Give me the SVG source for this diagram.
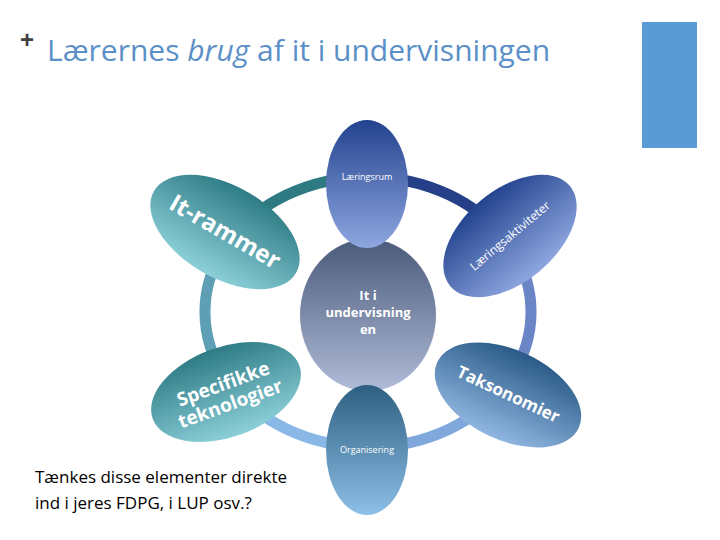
<svg xmlns="http://www.w3.org/2000/svg" width="720" height="540" viewBox="0 0 720 540">
<defs>
<linearGradient id="gTeal" x1="0" y1="0" x2="0" y2="1"><stop offset="0" stop-color="#2e7c85"/><stop offset="1" stop-color="#8ccfd9"/></linearGradient>
<linearGradient id="gBlue" x1="0" y1="0" x2="0" y2="1"><stop offset="0" stop-color="#24438f"/><stop offset="1" stop-color="#8ea7e0"/></linearGradient>
<linearGradient id="gSlate" x1="0" y1="0" x2="0" y2="1"><stop offset="0" stop-color="#4a5a7a"/><stop offset="1" stop-color="#b0bcd8"/></linearGradient>
<linearGradient id="gMid" x1="0" y1="0" x2="0" y2="1"><stop offset="0" stop-color="#2a5a88"/><stop offset="1" stop-color="#8fb6e0"/></linearGradient>
<linearGradient id="gSky" x1="0" y1="0" x2="0" y2="1"><stop offset="0" stop-color="#2d5f80"/><stop offset="1" stop-color="#8ec0e8"/></linearGradient>
</defs>
<style>
.w{fill:#fff;font-family:"Open Sans","DejaVu Sans",sans-serif;font-weight:bold}
.s{fill:#fff;font-family:"Open Sans","DejaVu Sans",sans-serif}
.r{fill:none;stroke-width:11}
</style>
<text x="20" y="48" font-family="Liberation Sans,sans-serif" font-size="24" font-weight="bold" fill="#404040">+</text>
<text x="47" y="61" font-family="Open Sans,sans-serif" font-size="30" fill="#5b8fc7">Lærernes <tspan font-style="italic">brug</tspan> af it i undervisningen</text>
<rect x="642" y="22" width="55" height="126" fill="#5b9bd5"/>
<g id="connectors">
<path class="r" stroke="#2d7a82" d="M 226.8 244.5 A 163 135 0 0 1 368 177"/>
<path class="r" stroke="#253f88" d="M 368 177 A 163 135 0 0 1 509.2 244.5"/>
<path class="r" stroke="#6a86c6" d="M 509.2 244.5 A 163 135 0 0 1 509.2 379.5"/>
<path class="r" stroke="#80a8dc" d="M 509.2 379.5 A 163 135 0 0 1 368 447"/>
<path class="r" stroke="#8ab8e6" d="M 368 447 A 163 135 0 0 1 226.8 379.5"/>
<path class="r" stroke="#5f9fb5" d="M 226.8 379.5 A 163 135 0 0 1 226.8 244.5"/>
</g>
<g id="center"><ellipse cx="368" cy="315" rx="68" ry="76" fill="url(#gSlate)"/>
<text class="w" font-size="13" text-anchor="middle"><tspan x="368" y="300">It i</tspan><tspan x="368" y="317">undervisning</tspan><tspan x="368" y="334">en</tspan></text></g>
<g id="laeringsrum"><ellipse cx="367" cy="184" rx="41" ry="64" fill="url(#gBlue)"/>
<text class="s" x="367" y="180" font-size="9" text-anchor="middle">Læringsrum</text></g>
<g id="organisering"><ellipse cx="367" cy="450" rx="41" ry="65" fill="url(#gSky)"/>
<text class="s" x="367" y="453" font-size="9" text-anchor="middle">Organisering</text></g>
<g id="itrammer" transform="translate(225,232) rotate(30)"><ellipse rx="82" ry="46" fill="url(#gTeal)"/>
<text class="w" y="8" font-size="24" text-anchor="middle">It-rammer</text></g>
<g id="laeringsaktiviteter" transform="translate(510,236) rotate(-40)"><ellipse rx="78" ry="46" fill="url(#gBlue)"/>
<text class="s" y="4" font-size="12" text-anchor="middle">Læringsaktiviteter</text></g>
<g id="specifikke" transform="translate(226,392) rotate(-20)"><ellipse rx="78" ry="45" fill="url(#gTeal)"/>
<text class="w" font-size="19" text-anchor="middle"><tspan x="0" y="-2">Specifikke</tspan><tspan x="0" y="19">teknologier</tspan></text></g>
<g id="taksonomier" transform="translate(508,395) rotate(25)"><ellipse rx="78" ry="45" fill="url(#gMid)"/>
<text class="w" y="5" font-size="17" text-anchor="middle">Taksonomier</text></g>
<text font-family="Open Sans,sans-serif" font-size="17" fill="#000"><tspan x="35" y="483">Tænkes disse elementer direkte</tspan><tspan x="35" y="509">ind i jeres FDPG, i LUP osv.?</tspan></text>
</svg>
